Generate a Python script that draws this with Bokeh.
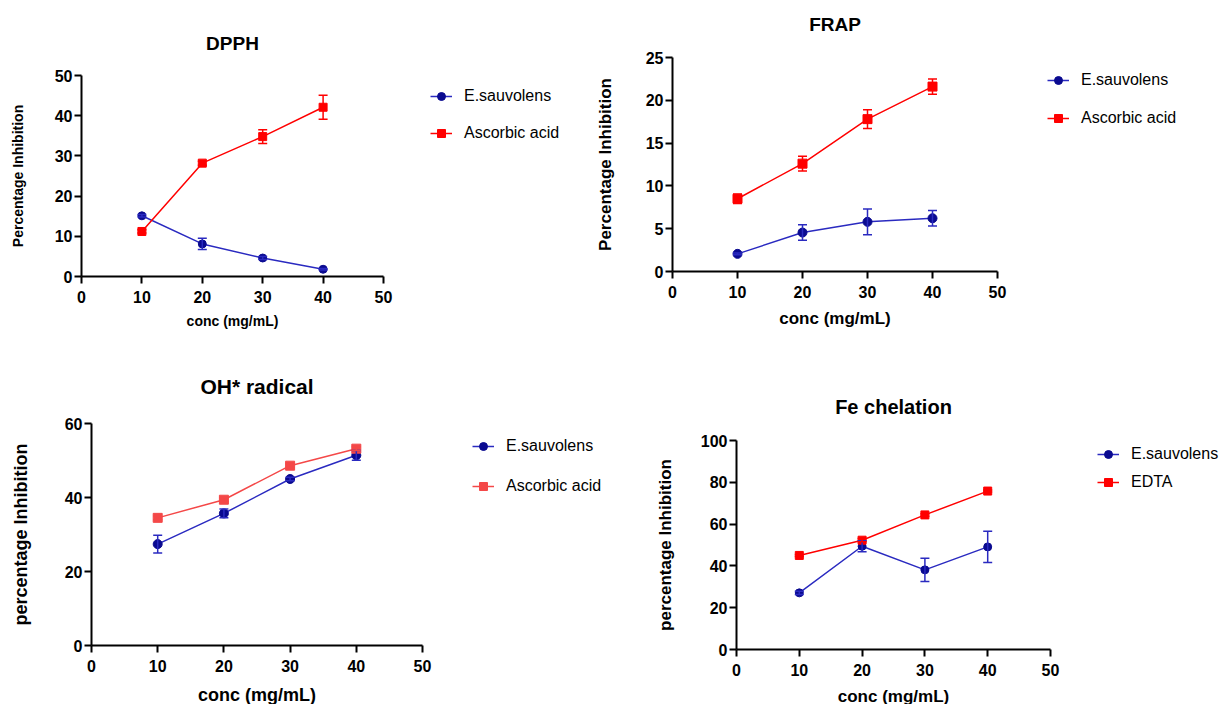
from bokeh.plotting import figure
from bokeh.models import Range1d, FixedTicker, ColumnDataSource, Whisker, TeeHead, Legend, LegendItem
from bokeh.layouts import column, row
from bokeh.embed import file_html
from bokeh.resources import INLINE

conc = [10, 20, 30, 40]

dpph_es = [15.1, 8.1, 4.6, 1.8]
dpph_es_err = [0.3, 1.4, 0.4, 0.2]
dpph_aa = [11.2, 28.2, 34.8, 42.1]
dpph_aa_err = [0.4, 0.5, 1.7, 3.0]

frap_es = [2.06, 4.55, 5.8, 6.22]
frap_es_err = [0.1, 0.9, 1.5, 0.9]
frap_aa = [8.5, 12.6, 17.8, 21.6]
frap_aa_err = [0.55, 0.85, 1.1, 0.9]

oh_es = [27.4, 35.7, 45.0, 51.4]
oh_es_err = [2.4, 1.2, 0.5, 1.3]
oh_aa = [34.5, 39.4, 48.6, 53.2]
oh_aa_err = [0.5, 0.5, 0.5, 0.5]

fe_es = [27.1, 49.4, 38.1, 49.1]
fe_es_err = [0.8, 2.6, 5.6, 7.5]
fe_edta = [45.0, 52.3, 64.4, 75.8]
fe_edta_err = [0.5, 0.8, 0.6, 0.5]

FONT = "Liberation Sans"
BLUE_LINE = "#2a2ac0"
BLUE_MARK = "#0a0a90"
RED = "#ff0000"
RED_OH = "#f44848"


def panel(title, ylabel, ymax, ystep, series, FW, FH, L, T, B,
          title_size, label_size, tick_size, msize,
          title_standoff, xlab_standoff, ylab_standoff):
    p = figure(frame_width=FW, frame_height=FH, min_border_left=L, min_border_right=10,
               min_border_top=T, min_border_bottom=B,
               x_range=Range1d(0, 50), y_range=Range1d(0, ymax),
               output_backend="svg", toolbar_location=None)
    p.frame_align = False
    p.outline_line_color = None
    p.grid.visible = False
    p.title.text = title
    p.title.align = "center"
    p.title.vertical_align = "bottom"
    p.title.text_font = FONT
    p.title.text_font_style = "bold"
    p.title.text_font_size = f"{title_size}px"
    p.title.text_color = "black"
    p.title.standoff = title_standoff
    for ax in (p.xaxis[0], p.yaxis[0]):
        ax.axis_line_width = 2
        ax.axis_line_color = "black"
        ax.major_tick_line_width = 2
        ax.major_tick_out = 7
        ax.major_tick_in = 0
        ax.minor_tick_line_color = None
        ax.major_label_text_font = FONT
        ax.major_label_text_font_style = "bold"
        ax.major_label_text_font_size = f"{tick_size}px"
        ax.major_label_text_color = "black"
        ax.axis_label_text_font = FONT
        ax.axis_label_text_font_style = "bold"
        ax.axis_label_text_font_size = f"{label_size}px"
        ax.axis_label_text_color = "black"
    p.xaxis[0].ticker = FixedTicker(ticks=[0, 10, 20, 30, 40, 50])
    p.yaxis[0].ticker = FixedTicker(ticks=list(range(0, ymax + 1, ystep)))
    p.xaxis[0].axis_label = "conc (mg/mL)"
    p.yaxis[0].axis_label = ylabel
    p.xaxis[0].axis_label_standoff = xlab_standoff
    p.yaxis[0].axis_label_standoff = ylab_standoff
    p.xaxis[0].major_label_standoff = 7
    p.yaxis[0].major_label_standoff = 2

    for (name, vals, errs, lcol, mcol, marker) in series:
        src = ColumnDataSource(dict(x=conc, y=vals,
                                    up=[v + e for v, e in zip(vals, errs)],
                                    lo=[v - e for v, e in zip(vals, errs)]))
        w = Whisker(source=src, base="x", upper="up", lower="lo", dimension="height",
                    line_color=lcol, line_width=1.5, level="glyph",
                    upper_head=TeeHead(size=9, line_color=lcol, line_width=1.5),
                    lower_head=TeeHead(size=9, line_color=lcol, line_width=1.5))
        p.add_layout(w)
        p.line("x", "y", source=src, line_color=lcol, line_width=1.5)
        p.scatter("x", "y", source=src, marker=marker, size=msize,
                  fill_color=mcol, line_color=mcol)
    return p


def legend_fig(W, H, entries, msize, loc, spacing):
    # a separate, axis-less figure that only holds the legend (its own ranges keep
    # the key renderers' data out of view; only the legend swatches are shown)
    f = figure(width=W, height=H, min_border=0, output_backend="svg",
               toolbar_location=None, x_range=Range1d(1000, 1001), y_range=Range1d(1000, 1001))
    f.frame_align = False
    f.outline_line_color = None
    f.grid.visible = False
    f.axis.visible = False
    items = []
    for (name, vals, lcol, mcol, marker) in entries:
        src = ColumnDataSource(dict(x=conc, y=vals))
        lr = f.line("x", "y", source=src, line_color=lcol, line_width=1.5)
        sr = f.scatter("x", "y", source=src, marker=marker, size=msize,
                       fill_color=mcol, line_color=mcol)
        items.append(LegendItem(label=name, renderers=[lr, sr]))
    leg = Legend(items=items, location=loc, orientation="vertical")
    leg.border_line_color = None
    leg.background_fill_alpha = 0
    leg.label_text_font = FONT
    leg.label_text_font_size = "16px"
    leg.label_text_color = "black"
    leg.glyph_width = 22
    leg.glyph_height = 20
    leg.label_height = 20
    leg.label_standoff = 12
    leg.spacing = spacing
    leg.padding = 0
    leg.margin = 0
    f.add_layout(leg, "center")
    return f


p1 = panel("DPPH", "Percentage Inhibition", 50, 10,
           [("E.sauvolens", dpph_es, dpph_es_err, BLUE_LINE, BLUE_MARK, "circle"),
            ("Ascorbic acid", dpph_aa, dpph_aa_err, RED, RED, "square")],
           302, 201, 81, 75, 69, 19, 14, 16, 8, 44, 7, 26)
l1 = legend_fig(197, 345, [("E.sauvolens", dpph_es, BLUE_LINE, BLUE_MARK, "circle"),
                           ("Ascorbic acid", dpph_aa, RED, RED, "square")], 8, (37, 202), 17)
p2 = panel("FRAP\n ", "Percentage Inhibition", 25, 5,
           [("E.sauvolens", frap_es, frap_es_err, BLUE_LINE, BLUE_MARK, "circle"),
            ("Ascorbic acid", frap_aa, frap_aa_err, RED, RED, "square")],
           325, 214, 82, 57, 74, 19, 17, 16, 9, 4, 8, 28)
l2 = legend_fig(208, 345, [("E.sauvolens", frap_es, BLUE_LINE, BLUE_MARK, "circle"),
                           ("Ascorbic acid", frap_aa, RED, RED, "square")], 9, (40, 217), 18)
p3 = panel("OH* radical", "percentage Inhibition", 60, 20,
           [("E.sauvolens", oh_es, oh_es_err, BLUE_LINE, BLUE_MARK, "circle"),
            ("Ascorbic acid", oh_aa, oh_aa_err, RED_OH, RED_OH, "square")],
           331, 222, 91, 78, 58, 21, 18, 16, 9, 51, 10, 31)
l3 = legend_fig(208, 358, [("E.sauvolens", oh_es, BLUE_LINE, BLUE_MARK, "circle"),
                           ("Ascorbic acid", oh_aa, RED_OH, RED_OH, "square")], 9, (40, 207), 20)
p4 = panel("Fe chelation", "percentage Inhibition", 100, 20,
           [("E.sauvolens", fe_es, fe_es_err, BLUE_LINE, BLUE_MARK, "circle"),
            ("EDTA", fe_edta, fe_edta_err, RED, RED, "square")],
           314, 209, 96, 95, 54, 20, 17, 16, 8, 45, 8, 23)
l4 = legend_fig(163, 358, [("E.sauvolens", fe_es, BLUE_LINE, BLUE_MARK, "circle"),
                           ("EDTA", fe_edta, RED, RED, "square")], 8, (37, 211), 8)

layout = column(row(p1, l1, p2, l2, spacing=0), row(p3, l3, p4, l4, spacing=0), spacing=0)
open("out.html", "w").write(file_html(layout, INLINE))
